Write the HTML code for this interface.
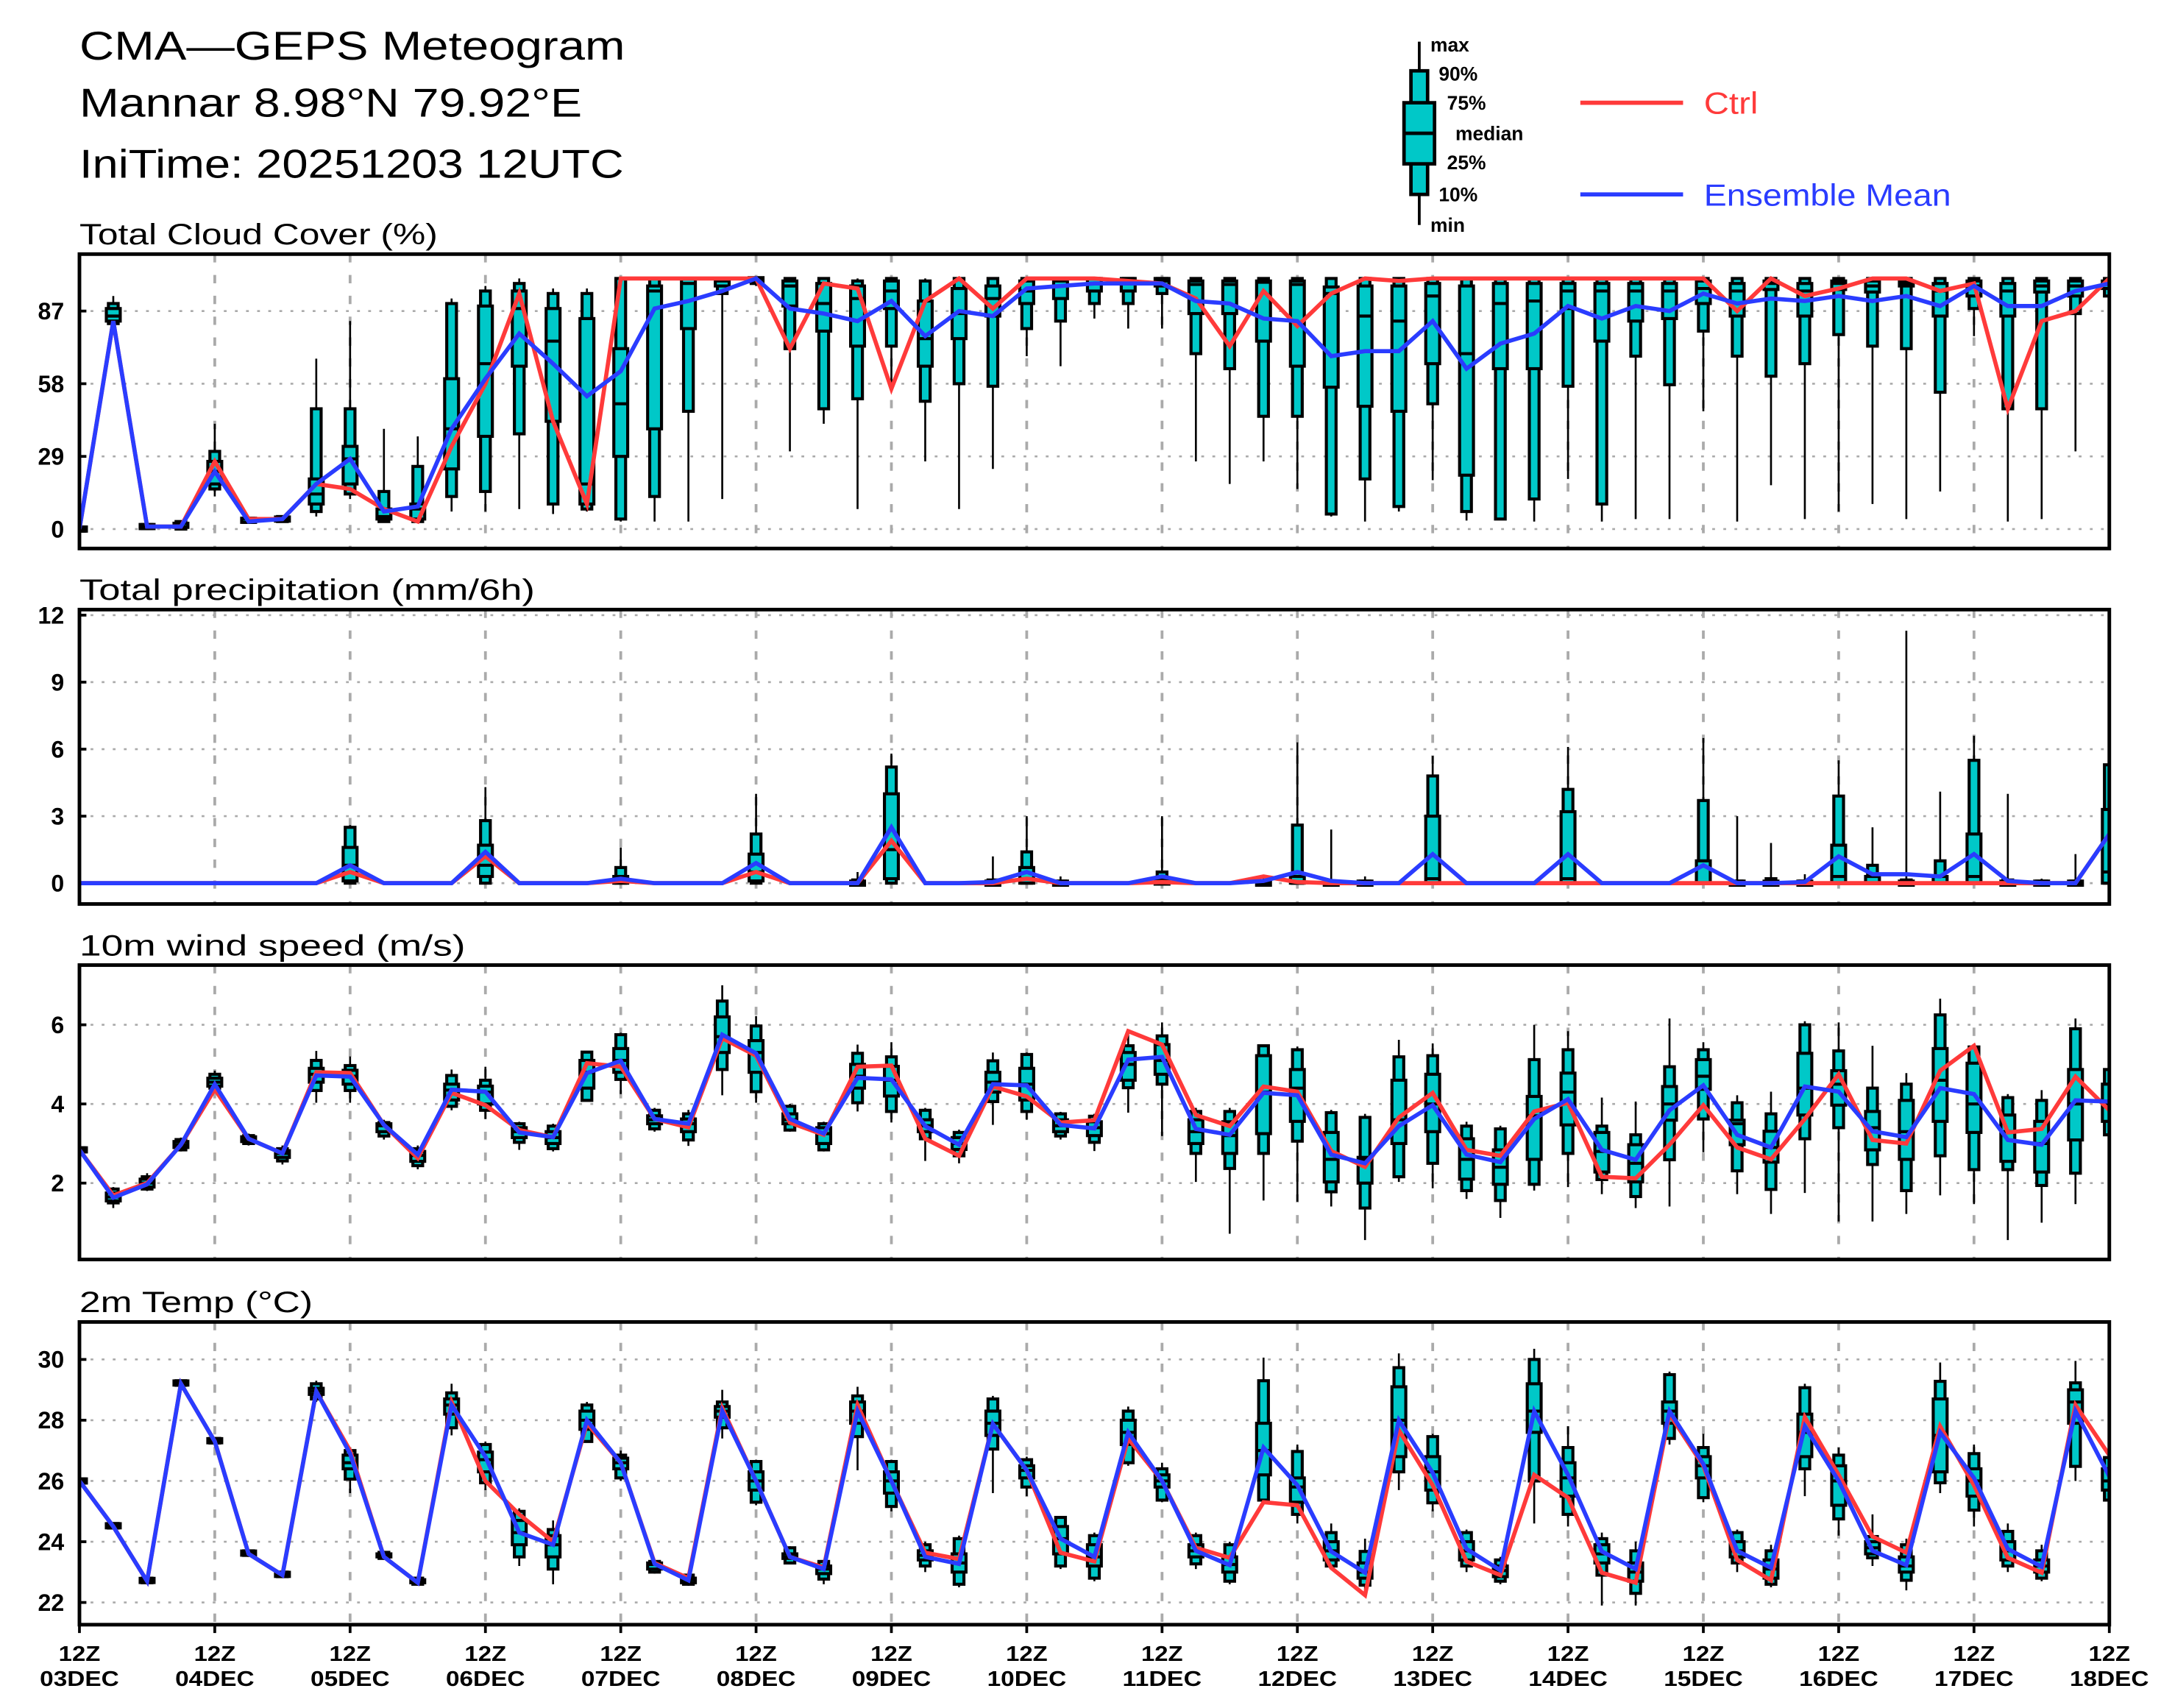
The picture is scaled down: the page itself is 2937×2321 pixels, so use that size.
<!DOCTYPE html>
<html><head><meta charset="utf-8"><title>CMA-GEPS Meteogram</title>
<style>html,body{margin:0;padding:0;background:#fff}svg{display:block}</style>
</head><body>
<svg id="chart" xmlns="http://www.w3.org/2000/svg" width="2937" height="2321" viewBox="0 0 1556 1230" font-family="Liberation Sans, sans-serif">
<rect x="0" y="0" width="1556" height="1230" fill="#fff"/>
<g font-size="29" fill="#000">
<text x="57" y="43" textLength="393" lengthAdjust="spacingAndGlyphs">CMA—GEPS Meteogram</text>
<text x="57" y="84" textLength="362" lengthAdjust="spacingAndGlyphs">Mannar 8.98°N 79.92°E</text>
<text x="57" y="128" textLength="392" lengthAdjust="spacingAndGlyphs">IniTime: 20251203 12UTC</text>
</g>
<g font-size="14" font-weight="bold">
<line x1="1022" y1="30" x2="1022" y2="162" stroke="#000" stroke-width="2"/>
<rect x="1016" y="51" width="12" height="89" fill="#00c8c8" stroke="#000" stroke-width="2.5"/>
<rect x="1011" y="74" width="22" height="44" fill="#00c8c8" stroke="#000" stroke-width="2.5"/>
<line x1="1011" y1="96" x2="1033" y2="96" stroke="#000" stroke-width="2.5"/>
<text x="1030" y="37">max</text><text x="1036" y="58">90%</text><text x="1042" y="79">75%</text>
<text x="1048" y="101">median</text><text x="1042" y="122">25%</text><text x="1036" y="145">10%</text><text x="1030" y="167">min</text>
</g>
<g font-size="22">
<line x1="1138" y1="74" x2="1212" y2="74" stroke="#ff3a3a" stroke-width="3"/>
<text x="1227" y="82" fill="#ff3a3a" textLength="39" lengthAdjust="spacingAndGlyphs">Ctrl</text>
<line x1="1138" y1="140" x2="1212" y2="140" stroke="#2a3cff" stroke-width="3"/>
<text x="1227" y="148" fill="#2a3cff" textLength="178" lengthAdjust="spacingAndGlyphs">Ensemble Mean</text>
</g>
</svg>
<script>
// ---------- Total cloud cover (%) ----------
const cloudMin=[0,80,1,0,13,3,3,5,12,3,3,7,7,8,6,7,3,3,3,12,97,31,42,8,55,27,8,24,69,65,84,80,80,27,18,27,16,5,3,7,19.5,3.4,4,3,20,3,4,4,47,3,17.5,4,7,10,4,15,77,3,4,31,90];
const cloudP10=[0,82,1,0,16,3,3,7,14,3,3,13,15,38,10,8,4,13,47,94,98,72,48,52,73,51,58,57,80,83,90,90,94,70,64,45,45,6,20,9,50,7,4,12,57,10,69,57.6,79,69,61,66,77.6,73,72,54.6,88,48,48,86,93];
const cloudP25=[0,83,1,1,18,3,4,10,18,4,4,24,37,65,43,10,29,40,80,97,99,89,79,73,88,65,76,85,90,92,95,95,97,86,86,75,65,56.6,49,47,66,21.5,64,64,88,75,83,84,90,85,95.6,85,95.6,94.6,97,85,93,85,94.6,93,96];
const cloudMed=[0,85,1,1,23,4,4,14,28,5,8,40,66,88,75,18,50,95,98,99,100,97,90,92,95,76,86,92,95,97,98,98,99,97.6,97.6,98.5,97.6,94,85,83,93,70,90,91,95,95,95,95,96,95,98,95,98,97,98,95,97,95,97,97,98];
const cloudP75=[0,88,1,2,27,4,4,20,33,8,10,60,89,95,88,84,72,97,100,100,100,99,98,97,99,91,96,97,99,99,100,100,100,99,99,99,99,96.6,97,97,98,97,98,98,98,98,98,98,99,98,99,98,99,99,99,98,99,98,99,99,99];
const cloudP90=[0,90,1,3,31,4,5,48,48,15,25,90,95,98,94,94,100,100,100,100,100,100,100,99,100,99,100,100,100,100,100,100,100,100,100,100,100,100,100,100,100,100,100,100,100,100,100,100,100,100,100,100,100,100,100,100,100,100,100,100,100];
const cloudMax=[0,93,1,3,42,4,5,68,83,40,37,92,97,100,96,96,100,100,100,100,100,100,100,100,100,100,100,100,100,100,100,100,100,100,100,100,100,100,100,100,100,100,100,100,100,100,100,100,100,100,100,100,100,100,100,100,100,100,100,100,100];
const cloudCtrl=[0,83,1,1,27,4,4,18,16,8,3,33,58,94,43,10,100,100,100,100,100,72,98,96,56,91,100,88,100,100,100,99,98,92,73,95,81,94,100,99,100,100,100,100,100,100,100,100,100,87,100,93,96,100,100,95,98,48,83,87,100];
const cloudMean=[0,83,1,1,23,3,4,18,28,7,9,40,60,78,66,53,63,88,91,95,100,88,86,83,91,77,87,85,96,97,98,98,98,91,90,84,83,69,71,71,83,64,74,78,89,84,89,87,94,90,92,91,93,91,93,89,97,89,89,95,98];
const cloudTicks=[0,29,58,87];

// ---------- Total precipitation (mm/6h) ----------
const precMin=new Array(61).fill(0);
const precP10=new Array(61).fill(0);
const precP25=[0,0,0,0,0,0,0,0,0.1,0, 0,0,0.3,0,0,0,0,0,0,0, 0.1,0,0,0,0.2,0,0,0,0,0, 0,0,0,0,0,0,0,0,0,0, 0,0,0,0,0,0,0,0,0,0, 0,0,0,0,0,0,0,0,0,0,0];
const precMed=[0,0,0,0,0,0,0,0,0.8,0, 0,0,0.8,0,0,0,0.1,0,0,0, 0.5,0,0,0,1.5,0,0,0,0.2,0, 0,0,0,0,0,0,0,0,0,0, 0.2,0,0,0,0.2,0,0,0,0,0, 0,0,0.3,0,0,0,0.3,0,0,0,0.5];
const precP75=[0,0,0,0,0,0,0,0,1.6,0, 0,0,1.7,0,0,0,0.3,0,0,0, 1.3,0,0,0,4.0,0,0,0,0.7,0, 0,0,0.1,0,0,0,0.3,0,0,0, 3.0,0,0,0,3.2,0,0,0,1.0,0, 0,0,1.7,0.3,0,0.3,2.2,0,0,0,3.3];
const precP90=[0,0,0,0,0,0,0,0,2.5,0, 0,0,2.8,0,0,0,0.7,0,0,0, 2.2,0,0,0.1,5.2,0,0,0.1,1.4,0, 0,0,0.5,0,0,0,2.6,0,0,0, 4.8,0,0,0,4.2,0,0,0,3.7,0, 0.2,0,3.9,0.8,0.1,1.0,5.5,0.1,0,0,5.3];
const precMax=[0,0,0,0,0,0,0,0,2.6,0, 0,0,4.3,0,0,0,1.6,0,0,0, 4.0,0,0,0.5,5.8,0,0,1.2,3.0,0.3, 0,0,3.0,0,0,0.3,6.3,2.4,0.3,0, 5.7,0,0,0,6.1,0,0,0,6.5,3.0, 1.8,0.4,5.5,2.5,11.3,4.1,6.6,4.0,0.2,1.3,5.3];
const precCtrl=[0,0,0,0,0,0,0,0,0.5,0, 0,0,1.2,0,0,0,0.1,0,0,0, 0.5,0,0,0,1.9,0,0,0,0.2,0, 0,0,0.05,0,0,0.3,0.05,0,0,0, 0,0,0,0,0,0,0,0,0,0, 0,0,0,0,0,0,0,0,0,0,2.2];
const precMean=[0,0,0,0,0,0,0,0,0.8,0, 0,0,1.4,0,0,0,0.2,0,0,0, 0.9,0,0,0,2.5,0,0,0.05,0.5,0, 0,0,0.3,0,0,0.1,0.5,0.1,0,0, 1.3,0,0,0,1.3,0,0,0,0.8,0, 0,0.05,1.2,0.4,0.4,0.3,1.3,0.1,0,0,2.2];
const precTicks=[0,3,6,9,12];

// ---------- 10m wind speed (m/s) ----------
const windMin=[2.84,1.37,1.8,2.8,4.3,2.95,2.47,4.03,4.03,3.1,2.35,3.84,3.62,2.84,2.8,4.09,4.25,3.3,2.94,4.22,4.03,3.3,2.8,3.81,3.53,2.56,2.5,3.47,3.6,3.1,2.81,3.78,3.19,2.03,0.72,1.56,1.53,1.41,0.56,2.03,1.87,1.6,1.12,1.81,1.9,1.72,1.37,1.41,2.78,1.72,1.22,1.75,1.03,1.03,1.22,1.69,1.47,0.56,1.0,1.47,3.1];
const windP10=[2.84,1.5,1.85,2.84,4.4,3.0,2.56,4.34,4.34,3.19,2.44,3.94,3.84,3.03,2.87,4.09,4.62,3.37,3.09,4.87,4.31,3.34,2.84,4.03,3.81,3.12,2.69,4.06,3.81,3.19,3.03,4.41,4.5,2.75,2.37,2.75,3.06,1.78,1.37,2.16,2.5,1.81,1.56,1.97,2.75,2.09,1.66,2.59,3.62,2.31,1.84,3.12,3.4,2.47,1.81,2.69,2.34,2.34,1.94,2.25,3.22];
const windP25=[2.84,1.55,1.9,2.9,4.45,3.05,2.65,4.55,4.5,3.3,2.55,4.1,4.0,3.15,3.0,4.4,4.8,3.5,3.3,5.3,4.8,3.5,3.0,4.4,4.2,3.3,2.85,4.3,4.1,3.3,3.2,4.6,4.75,3.0,2.75,3.25,3.56,2.03,2.0,3.0,3.3,2.1,1.97,2.6,3.47,2.28,2.03,3.59,4.37,2.97,2.53,3.72,3.97,2.84,2.6,3.56,3.28,2.55,2.28,3.09,3.56];
const windMed=[2.84,1.65,2.0,2.97,4.55,3.12,2.75,4.75,4.7,3.45,2.7,4.35,4.3,3.3,3.15,4.8,5.1,3.6,3.5,5.7,5.3,3.6,3.25,4.7,4.6,3.45,3.0,4.55,4.5,3.45,3.4,5.0,5.1,3.3,3.2,4.3,4.4,2.6,2.6,3.6,4.0,2.6,2.4,3.7,4.3,2.8,2.5,4.0,4.7,3.5,2.9,4.4,4.5,3.4,3.3,4.6,4.0,3.3,3.0,4.0,4.0];
const windP75=[2.84,1.75,2.1,3.05,4.65,3.17,2.82,4.9,4.85,3.5,2.8,4.5,4.45,3.4,3.3,5.1,5.4,3.7,3.62,6.2,5.6,3.75,3.4,5.0,4.95,3.6,3.15,4.8,4.9,3.6,3.55,5.3,5.5,3.6,3.55,5.22,4.87,3.28,2.65,4.6,4.75,3.12,2.84,4.19,4.78,3.28,2.97,4.44,5.12,3.59,3.31,5.28,4.84,3.81,4.09,5.4,5.03,3.72,3.56,4.87,4.5];
const windP90=[2.84,1.85,2.16,3.1,4.75,3.2,2.87,5.1,4.97,3.53,2.87,4.72,4.6,3.5,3.44,5.31,5.75,3.84,3.75,6.6,5.97,3.94,3.5,5.28,5.19,3.84,3.28,5.09,5.25,3.75,3.69,5.47,5.72,3.81,3.81,5.47,5.37,3.78,3.66,5.19,5.22,3.44,3.37,5.12,5.37,3.44,3.22,4.94,5.37,4.03,3.75,6.0,5.34,4.4,4.5,6.25,5.44,4.16,4.09,5.9,4.87];
const windMax=[2.84,1.9,2.25,3.15,4.84,3.25,2.95,5.34,5.2,3.6,2.95,4.87,4.94,3.55,3.5,5.34,5.8,3.9,3.85,7.0,6.22,4.0,3.55,5.5,5.56,3.9,3.35,5.3,5.3,3.8,3.75,5.84,6.06,3.9,3.9,5.5,5.45,3.85,3.75,5.62,5.53,3.55,3.45,6.0,5.84,4.16,4.06,6.16,5.56,4.22,4.31,6.09,6.06,5.47,4.78,6.66,5.5,4.25,4.35,6.16,4.95];
const windCtrl=[2.84,1.69,2.0,2.97,4.37,3.12,2.75,4.8,4.78,3.47,2.63,4.28,3.97,3.34,3.16,5.03,4.94,3.62,3.41,5.66,5.22,3.53,3.22,4.94,4.97,3.12,2.69,4.44,4.19,3.53,3.59,5.84,5.5,3.72,3.44,4.44,4.31,2.81,2.41,3.66,4.28,2.84,2.69,3.81,4.03,2.16,2.12,2.97,3.97,2.9,2.6,3.62,4.75,3.09,3.0,4.84,5.47,3.28,3.37,4.69,3.84];
const windMean=[2.84,1.63,1.97,2.97,4.5,3.12,2.75,4.72,4.69,3.47,2.72,4.36,4.31,3.28,3.16,4.78,5.09,3.62,3.5,5.75,5.28,3.62,3.25,4.66,4.62,3.44,2.97,4.5,4.47,3.47,3.38,5.12,5.19,3.37,3.22,4.28,4.22,2.72,2.5,3.44,3.97,2.72,2.53,3.62,4.12,2.84,2.59,3.84,4.47,3.22,2.9,4.44,4.31,3.31,3.16,4.4,4.25,3.09,2.97,4.09,4.06];
const windTicks=[2,4,6];

// ---------- 2m Temp (°C) ----------
const tempMin=[26,24.4,22.6,29.1,27.2,23.5,22.8,28.6,25.6,23.4,22.55,27.5,25.7,23.2,22.6,27.3,26.0,22.95,22.55,27.4,25.2,23.25,22.6,26.35,25.0,23.0,22.5,25.6,25.5,23.1,22.7,26.5,25.3,23.1,22.6,25.37,24.6,23.1,22.4,25.7,25.0,23.0,22.6,24.6,24.5,21.9,21.9,27.2,25.3,23.0,22.5,25.5,24.2,23.2,22.4,25.6,24.5,23.0,22.7,26.0,25.2];
const tempP10=[26,24.45,22.65,29.15,27.25,23.55,22.85,28.7,26.06,23.45,22.6,27.75,25.94,23.5,23.1,27.3,26.1,23.0,22.6,27.75,25.3,23.3,22.77,27.46,25.16,23.2,22.6,27.05,25.8,23.2,22.8,26.6,25.37,23.27,22.7,25.37,24.9,23.2,22.57,26.3,25.28,23.2,22.7,26.0,24.9,22.9,22.3,27.4,25.45,23.3,22.6,26.4,24.75,23.47,22.73,25.94,25.04,23.2,22.8,26.48,25.37];
const tempP25=[26,24.5,22.7,29.2,27.3,23.6,22.9,28.85,26.4,23.5,22.65,28.2,26.3,23.9,23.5,27.7,26.4,23.1,22.65,28.1,25.7,23.45,22.95,27.9,25.6,23.4,23.0,27.5,26.1,23.6,23.2,27.2,25.8,23.5,23.0,26.2,25.3,23.4,22.8,26.8,25.7,23.4,22.85,27.6,25.5,23.3,22.7,27.9,26.1,23.5,22.8,26.8,25.2,23.6,23.0,26.3,25.5,23.4,23.0,27.9,25.7];
const tempMed=[26,24.5,22.7,29.2,27.3,23.6,22.9,28.95,26.6,23.55,22.7,28.5,26.7,24.3,23.9,28.0,26.6,23.25,22.75,28.3,26.0,23.5,23.1,28.3,26.0,23.55,23.3,27.9,26.35,24.1,23.5,27.6,26.0,23.7,23.25,27.0,25.8,23.7,23.0,28.0,26.3,23.7,23.05,28.3,26.1,23.6,23.0,28.3,26.5,23.7,23.1,27.6,26.0,23.8,23.2,27.5,26.0,23.7,23.2,28.6,26.0];
const tempP75=[26,24.55,22.75,29.25,27.35,23.65,22.95,29.05,26.85,23.6,22.75,28.7,26.95,24.7,24.2,28.3,26.75,23.3,22.8,28.45,26.3,23.6,23.2,28.6,26.3,23.7,23.6,28.3,26.5,24.5,23.9,28.0,26.2,23.9,23.5,27.9,26.1,24.0,23.3,29.1,26.8,24.0,23.2,29.2,26.6,23.9,23.3,28.6,26.8,24.0,23.4,28.2,26.5,24.0,23.5,28.7,26.4,24.0,23.4,29.0,26.4];
const tempP90=[26,24.6,22.8,29.3,27.4,23.7,23.0,29.2,27.0,23.65,22.8,28.9,27.2,25.0,24.4,28.5,26.85,23.35,22.9,28.6,26.64,23.8,23.35,28.8,26.64,23.9,24.1,28.7,26.7,24.8,24.2,28.3,26.4,24.2,23.9,29.3,26.97,24.3,23.68,29.73,27.46,24.3,23.4,30.0,27.1,24.1,23.7,29.5,27.1,24.3,23.7,29.07,26.85,24.17,23.9,29.28,26.9,24.34,23.7,29.23,26.77];
const tempMax=[26,24.6,22.8,29.3,27.4,23.7,23.0,29.3,27.05,23.7,22.85,29.2,27.3,25.1,24.7,28.6,27.0,23.4,22.95,29.0,26.7,23.85,23.4,29.1,26.7,24.0,24.2,28.8,26.8,24.85,24.3,28.45,26.6,24.3,24.0,30.06,27.2,24.6,24.1,30.2,27.55,24.4,23.5,30.35,27.8,24.3,24.0,29.6,27.55,24.4,23.9,29.2,27.1,24.9,24.1,29.9,27.2,24.6,23.9,29.95,26.85];
const tempCtrl=[26,24.5,22.7,29.2,27.3,23.6,22.9,28.95,27.0,23.5,22.65,28.6,26.0,24.9,24.0,27.9,26.6,23.3,22.8,28.4,26.0,23.5,23.15,28.5,26.0,23.64,23.43,27.88,26.35,23.64,23.35,27.4,26.0,23.8,23.47,25.3,25.2,23.14,22.24,27.67,25.86,23.35,22.9,26.2,25.45,22.98,22.65,28.2,26.5,23.4,22.73,28.1,26.2,24.17,23.64,27.8,25.86,23.47,22.98,28.5,26.85];
const tempMean=[26,24.5,22.7,29.2,27.3,23.6,22.9,28.95,26.9,23.5,22.65,28.5,26.8,24.3,23.9,28.0,26.6,23.27,22.73,28.3,26.0,23.5,23.1,28.3,26.0,23.5,23.27,27.88,26.35,24.1,23.5,27.6,26.0,23.7,23.23,27.1,25.86,23.68,22.98,28.0,26.27,23.76,23.06,28.3,26.2,23.68,23.1,28.3,26.56,23.7,23.14,27.8,26.0,23.7,23.23,27.6,26.1,23.76,23.18,28.3,26.15];
const tempTicks=[22,24,26,28,30];

// ---------- x axis labels ----------
const dayLabels=['03DEC','04DEC','05DEC','06DEC','07DEC','08DEC','09DEC','10DEC','11DEC','12DEC','13DEC','14DEC','15DEC','16DEC','17DEC','18DEC'];

const NS='http://www.w3.org/2000/svg';
const svg=document.getElementById('chart');
const X0=57,X1=1519,NPT=61;
function xAt(i){return X0+i*(X1-X0)/(NPT-1);}
function mk(tag,attrs,parent){const e=document.createElementNS(NS,tag);for(const k in attrs)e.setAttribute(k,attrs[k]);(parent||svg).appendChild(e);return e;}

function panel(cfg){
  const g=mk('g',{});
  
  
  const yAt=v=>cfg.y0px-(v-cfg.v0)*(cfg.y0px-cfg.y1px)/(cfg.v1-cfg.v0);
  const t=mk('text',{x:57,y:cfg.top-7,'font-size':21,textLength:cfg.titleLen,lengthAdjust:'spacingAndGlyphs'},g);
  t.textContent=cfg.title;
  
  
  const clipId='clip-'+cfg.name;
  const cp=mk('clipPath',{id:clipId},g);
  mk('rect',{x:X0,y:cfg.top,width:X1-X0,height:cfg.bottom-cfg.top},cp);
  const grid=mk('g',{'clip-path':'url(#'+clipId+')'},g);
  
  
  cfg.ticks.forEach(v=>{
    const y=yAt(v);
    mk('line',{x1:X0,x2:X1,y1:y,y2:y,stroke:'#aaa','stroke-width':1.4,'stroke-dasharray':'2 6'},grid);
    const lbl=mk('text',{x:46,y:y+6,'font-size':17,'font-weight':'bold','text-anchor':'end'},g);
    lbl.textContent=String(v);
    
    
    mk('line',{x1:X0,x2:X0+5,y1:y,y2:y,stroke:'#000','stroke-width':2},g);
  });
  for(let d=1;d<15;d++){
    const x=xAt(d*4);
    mk('line',{x1:x,x2:x,y1:cfg.top,y2:cfg.bottom,stroke:'#aaa','stroke-width':2,'stroke-dasharray':'6 9'},grid);
  }
  const bg=mk('g',{'clip-path':'url(#'+clipId+')'},g);
  
  
  for(let i=0;i<NPT;i++){
    const mn=cfg.mn[i],mx=cfg.mx[i];
    if(cfg.skipZero && mx<=0) continue;
    const x=xAt(i);
    const b=mk('g',{},bg);
    
    
    mk('line',{x1:x,x2:x,y1:yAt(mn),y2:yAt(mx),stroke:'#000','stroke-width':1.4},b);
    let a=yAt(cfg.p90[i]),c=yAt(cfg.p10[i]);
    if(c-a<2){const m=(a+c)/2;a=m-1.5;c=m+1.5;}
    mk('rect',{x:x-3.5,y:a,width:7,height:c-a,fill:'#00c8c8',stroke:'#000','stroke-width':2.2},b);
    let p=yAt(cfg.p75[i]),q=yAt(cfg.p25[i]);
    if(q-p<2){const m=(p+q)/2;p=m-1.5;q=m+1.5;}
    mk('rect',{x:x-5,y:p,width:10,height:q-p,fill:'#00c8c8',stroke:'#000','stroke-width':2.2},b);
    const ym=yAt(cfg.med[i]);
    mk('line',{x1:x-5,x2:x+5,y1:ym,y2:ym,stroke:'#000','stroke-width':2.2},b);
  }
  const lineFor=(arr,color,nm)=>{
    const pts=arr.map((v,i)=>xAt(i).toFixed(2)+','+yAt(v).toFixed(2)).join(' ');
    const pl=mk('polyline',{points:pts,fill:'none',stroke:color,'stroke-width':3,'stroke-linejoin':'miter','clip-path':'url(#'+clipId+')'},g);
    
    
  };
  lineFor(cfg.ctrl,'#ff3a3a','ctrl');
  lineFor(cfg.mean,'#2a3cff','ensemble-mean');
  const fr=mk('rect',{x:X0,y:cfg.top,width:X1-X0,height:cfg.bottom-cfg.top,fill:'none',stroke:'#000','stroke-width':2.6},g);
  
  
}

panel({name:'cloud-cover',title:'Total Cloud Cover (%)',titleLen:258,top:183,bottom:395,v0:0,v1:87,y0px:381,y1px:224,ticks:cloudTicks,
  mn:cloudMin,p10:cloudP10,p25:cloudP25,med:cloudMed,p75:cloudP75,p90:cloudP90,mx:cloudMax,ctrl:cloudCtrl,mean:cloudMean});
panel({name:'precipitation',title:'Total precipitation (mm/6h)',titleLen:328,top:439,bottom:651,v0:0,v1:12,y0px:636,y1px:443,ticks:precTicks,skipZero:true,
  mn:precMin,p10:precP10,p25:precP25,med:precMed,p75:precP75,p90:precP90,mx:precMax,ctrl:precCtrl,mean:precMean});
panel({name:'wind-speed',title:'10m wind speed (m/s)',titleLen:278,top:695,bottom:907,v0:2,v1:6,y0px:852,y1px:738,ticks:windTicks,
  mn:windMin,p10:windP10,p25:windP25,med:windMed,p75:windP75,p90:windP90,mx:windMax,ctrl:windCtrl,mean:windMean});
panel({name:'temperature',title:'2m Temp (°C)',titleLen:168,top:952,bottom:1170,v0:22,v1:30,y0px:1154,y1px:979,ticks:tempTicks,
  mn:tempMin,p10:tempP10,p25:tempP25,med:tempMed,p75:tempP75,p90:tempP90,mx:tempMax,ctrl:tempCtrl,mean:tempMean});

const xg=mk('g',{'font-size':15,'font-weight':'bold','text-anchor':'middle'});


dayLabels.forEach((lab,d)=>{
  const x=xAt(d*4);
  mk('line',{x1:x,x2:x,y1:1170,y2:1176,stroke:'#000','stroke-width':2},xg);
  const t1=mk('text',{x:x,y:1196,textLength:30,lengthAdjust:'spacingAndGlyphs'},xg);
  t1.textContent='12Z';
  
  
  const t2=mk('text',{x:x,y:1214,textLength:57,lengthAdjust:'spacingAndGlyphs'},xg);
  t2.textContent=lab;
  
  
});
</script>
</body></html>
